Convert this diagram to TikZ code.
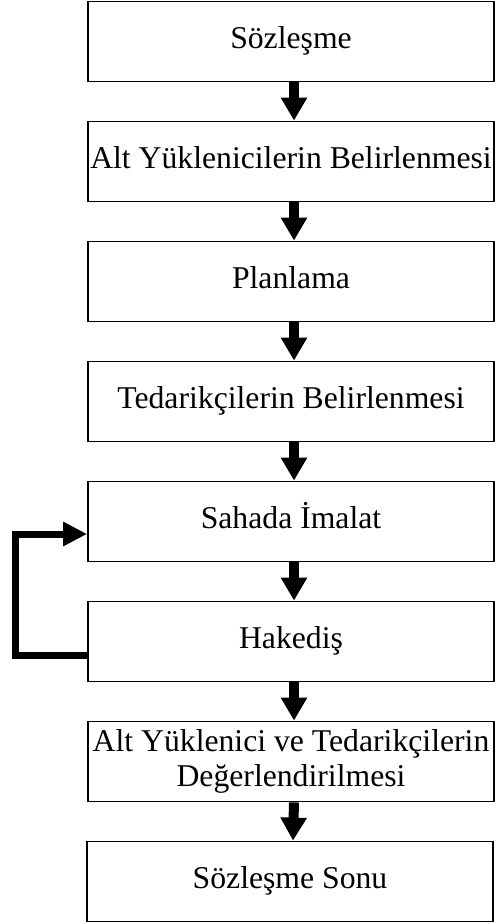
\documentclass[tikz,border=0pt]{standalone}
\usepackage{fontspec}
\setmainfont{Liberation Serif}
\usetikzlibrary{arrows.meta}
\begin{document}
\begin{tikzpicture}[x=1pt,y=-1pt,
  boxbase/.style={draw,line width=1.8pt,minimum width=406pt,minimum height=80pt,
    inner sep=0pt,font=\fontsize{31.7}{35}\selectfont},
  stepbox/.style={boxbase,text height=22pt,text depth=9pt},
  twobox/.style={boxbase,align=center},
  flow/.style={line width=10pt,-{Triangle[width=25pt,length=23pt]}},
  back/.style={line width=7pt,-{Triangle[width=23pt,length=24pt]}}]
\useasboundingbox (0,0) rectangle (495,924);

% process steps
\node[stepbox] (s1) at (291,41.5)  {Sözleşme};
\node[stepbox] (s2) at (291,161.5) {Alt Yüklenicilerin Belirlenmesi};
\node[stepbox] (s3) at (291,281.5) {Planlama};
\node[stepbox] (s4) at (291,401.5) {Tedarikçilerin Belirlenmesi};
\node[stepbox] (s5) at (291,521.5) {Sahada İmalat};
\node[stepbox] (s6) at (291,641.5) {Hakediş};
\node[twobox]  (s7) at (291,761.5) {Alt Yüklenici ve Tedarikçilerin\\Değerlendirilmesi};
\node[stepbox] (s8) at (290,881.5) {Sözleşme Sonu};

% downward flow
\foreach \a/\b in {s1/s2,s2/s3,s3/s4,s4/s5,s5/s6,s6/s7,s7/s8}
  \draw[flow] ([xshift=3pt]\a.south) -- ([xshift=3pt]\b.north);

% feedback loop from payment back to production
\draw[back] ([yshift=-13.5pt]s6.west) -- ++(-72,0) |- ([yshift=-12.5pt]s5.west);
\end{tikzpicture}
\end{document}
